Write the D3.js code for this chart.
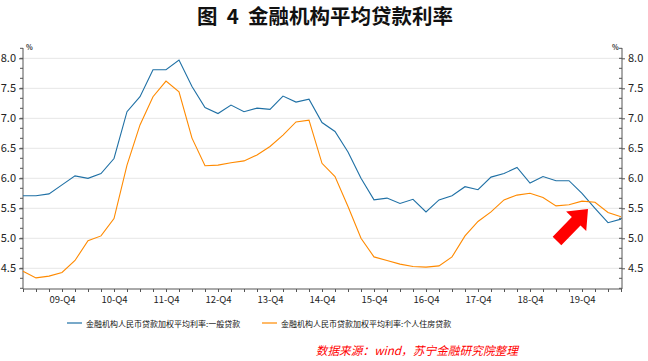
<!DOCTYPE html>
<html><head><meta charset="utf-8">
<script src="https://cdn.jsdelivr.net/npm/d3@7"></script>
<style>body{margin:0;background:#fff}svg{display:block}</style>
</head><body>
<svg id="c" width="648" height="361"></svg>
<script>
const quarters = ["09-Q1","09-Q2","09-Q3","09-Q4","10-Q1","10-Q2","10-Q3","10-Q4","11-Q1","11-Q2","11-Q3","11-Q4",
"12-Q1","12-Q2","12-Q3","12-Q4","13-Q1","13-Q2","13-Q3","13-Q4","14-Q1","14-Q2","14-Q3","14-Q4",
"15-Q1","15-Q2","15-Q3","15-Q4","16-Q1","16-Q2","16-Q3","16-Q4","17-Q1","17-Q2","17-Q3","17-Q4",
"18-Q1","18-Q2","18-Q3","18-Q4","19-Q1","19-Q2","19-Q3","19-Q4","20-Q1","20-Q2","20-Q3"];
const generalLoans = [5.71,5.71,5.74,5.89,6.04,6.00,6.08,6.33,7.11,7.36,7.81,7.81,7.97,7.53,7.18,7.08,7.22,7.11,7.17,7.15,7.37,7.27,7.32,6.93,6.78,6.44,6.00,5.64,5.67,5.58,5.65,5.44,5.64,5.71,5.86,5.81,6.02,6.08,6.18,5.92,6.03,5.96,5.96,5.75,5.50,5.26,5.32];
const mortgageLoans = [4.45,4.34,4.37,4.43,4.63,4.96,5.04,5.33,6.22,6.89,7.36,7.62,7.44,6.67,6.21,6.22,6.26,6.29,6.39,6.53,6.72,6.94,6.97,6.25,6.03,5.53,5.00,4.69,4.63,4.57,4.53,4.52,4.54,4.69,5.04,5.28,5.44,5.64,5.72,5.75,5.68,5.54,5.56,5.62,5.60,5.43,5.36];
const seriesNames = ["金融机构人民币贷款加权平均利率:一般贷款","金融机构人民币贷款加权平均利率:个人住房贷款"];
const yTicks = [4.5,5.0,5.5,6.0,6.5,7.0,7.5,8.0];
const titleText = "图  4  金融机构平均贷款利率";
const sourceText = "数据来源：wind，苏宁金融研究院整理";

const svg = d3.select("#c");
const L = 23, R = 622, T = 48, B = 289;
const x = d3.scalePoint().domain(quarters).range([L, 621]);
const y = d3.scaleLinear().domain([4.155, 8.172]).range([B, T]);
const font = "'Noto Sans CJK SC', 'Noto Sans', sans-serif";

// title
svg.append("text").attr("x", 325).attr("y", 24).attr("text-anchor","middle")
  .attr("xml:space","preserve").style("white-space","pre")
  .attr("font-family", font).attr("font-weight","bold").attr("font-size", 20.5).attr("fill","#111")
  .text(titleText);

// gridlines
svg.append("g").selectAll("line").data(yTicks).join("line")
  .attr("x1", L).attr("x2", R).attr("y1", d=>y(d)).attr("y2", d=>y(d))
  .attr("stroke", "#e6e6e6").attr("stroke-width", 1);

// minor ticks values
const minor = d3.range(0, 25).map(k => 4.5 - 1/3 + k/6).filter(v => v >= 4.16 && v <= 8.17);

// left axis
const gl = svg.append("g").attr("transform", `translate(${L},0)`)
  .call(d3.axisLeft(y).tickValues(yTicks).tickFormat(d3.format(".1f")).tickSize(4).tickPadding(3));
gl.append("g").selectAll("line").data(minor).join("line")
  .attr("x1", -3).attr("x2", 0).attr("y1", d=>y(d)).attr("y2", d=>y(d)).attr("stroke","#555");
// right axis
const gr = svg.append("g").attr("transform", `translate(${R},0)`)
  .call(d3.axisRight(y).tickValues(yTicks).tickFormat(d3.format(".1f")).tickSize(3).tickPadding(3));
gr.append("g").selectAll("line").data(minor).join("line")
  .attr("x1", -3).attr("x2", 0).attr("y1", d=>y(d)).attr("y2", d=>y(d)).attr("stroke","#555");
[gl, gr].forEach(g => {
  g.select(".domain").attr("stroke","#555").attr("d", `M0,${T}V${B}`);
  g.selectAll(".tick line").attr("stroke","#555");
  g.selectAll("text").attr("font-family", font).attr("font-size", 11).attr("fill","#222");
});
// x axis
const gx = svg.append("g").attr("transform", `translate(0,${B})`)
  .call(d3.axisBottom(x).tickSize(3).tickPadding(4)
    .tickFormat(d => d.endsWith("Q4") ? d : ""));
gx.select(".domain").attr("stroke","#555").attr("d", `M${L},0H${R}`);
gx.selectAll(".tick line").attr("stroke","#555");
gx.selectAll("text").attr("font-family", font).attr("font-size", 9.5).attr("fill","#222");

// unit labels
svg.append("text").attr("x", 26).attr("y", 50).attr("font-size", 7).attr("font-weight","bold")
  .attr("font-family", font).attr("fill","#333").text("%");
svg.append("text").attr("x", 612).attr("y", 50).attr("font-size", 7).attr("font-weight","bold")
  .attr("font-family", font).attr("fill","#333").text("%");

// lines
const colors = ["#1f70a5", "#ff8a00"];
const line = d3.line().x((d,i)=>x(quarters[i])).y(d=>y(d));
[generalLoans, mortgageLoans].forEach((s, k) => {
  svg.append("path").datum(s).attr("d", line).attr("fill","none")
    .attr("stroke", colors[k]).attr("stroke-width", 1.1);
});

// red arrow
const tip = [588, 209], tail = [557, 241];
const ang = Math.atan2(tip[1]-tail[1], tip[0]-tail[0]) * 180 / Math.PI;
const len = Math.hypot(tip[0]-tail[0], tip[1]-tail[1]);
svg.append("path").attr("transform", `translate(${tail[0]},${tail[1]}) rotate(${ang})`)
  .attr("d", `M0,-6 L${len-17},-6 L${len-17},-14 L${len},0 L${len-17},14 L${len-17},6 L0,6 Z`)
  .attr("fill", "#ff0000");

// legend
const legX = [67, 262];
seriesNames.forEach((n, k) => {
  svg.append("line").attr("x1", legX[k]).attr("x2", legX[k]+15).attr("y1", 323).attr("y2", 323)
    .attr("stroke", colors[k]).attr("stroke-width", 1.2);
  svg.append("text").attr("x", legX[k]+19).attr("y", 326.5).attr("font-family", font)
    .attr("font-size", 8).attr("fill","#111").text(n);
});

// source
svg.append("text").attr("x", 518).attr("y", 355).attr("text-anchor","end")
  .attr("font-family", font).attr("font-size", 11.7).attr("font-style","italic").attr("fill","#ff0000")
  .text(sourceText);
</script>
</body></html>
